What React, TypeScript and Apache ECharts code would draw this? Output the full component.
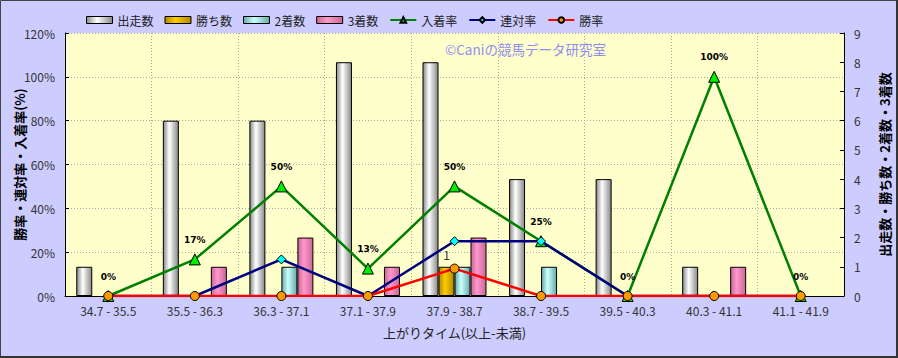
import React, { useEffect, useRef } from "react";
import * as echarts from "echarts";

const categories = ["34.7 - 35.5", "35.5 - 36.3", "36.3 - 37.1", "37.1 - 37.9", "37.9 - 38.7", "38.7 - 39.5", "39.5 - 40.3", "40.3 - 41.1", "41.1 - 41.9"];
const starts = [1, 6, 6, 8, 8, 4, 4, 1, 0];
const wins = [0, 0, 0, 0, 1, 0, 0, 0, 0];
const seconds = [0, 0, 1, 0, 1, 1, 0, 0, 0];
const thirds = [0, 1, 2, 1, 2, 0, 0, 1, 0];
const placeRate = [0, 16.7, 50, 12.5, 50, 25, 0, 100, 0];
const placeLabels = ["0%", "17%", "50%", "13%", "50%", "25%", "0%", "100%", "0%"];
const top2Rate = [0, 0, 16.7, 0, 25, 25, 0, 0, 0];
const winRate = [0, 0, 0, 0, 12.5, 0, 0, 0, 0];
const leftTicks = [0, 20, 40, 60, 80, 100, 120];
const rightTicks = [0, 1, 2, 3, 4, 5, 6, 7, 8, 9];

const FONT = "'Noto Sans CJK JP', 'Noto Sans', sans-serif";

function grad(edge: string, mid: string) {
  return new echarts.graphic.LinearGradient(0, 0, 1, 0, [
    { offset: 0, color: edge },
    { offset: 0.4, color: mid },
    { offset: 1, color: edge },
  ]);
}

const hideZero = (arr: number[]) => arr.map((v) => (v === 0 ? null : v));

export default function App() {
  const ref = useRef<HTMLDivElement>(null);
  useEffect(() => {
    if (!ref.current) return;
    const chart = echarts.init(ref.current, null, { renderer: "svg" });
    const barBase = {
      type: "bar" as const,
      yAxisIndex: 1,
      barWidth: 16,
      barGap: "0%",
      z: 2,
    };
    const lineLabel = {
      show: true,
      position: "top" as const,
      distance: 9,
      fontSize: 9,
      fontWeight: "bold" as const,
      color: "#000",
      fontFamily: "'DejaVu Sans', sans-serif",
      formatter: (p: any) => placeLabels[p.dataIndex],
    };
    chart.setOption({
      animation: false,
      backgroundColor: "#CCCCFF",
      textStyle: { fontFamily: FONT },
      legend: {
        top: 9,
        left: 81,
        itemWidth: 26,
        itemHeight: 7,
        itemGap: 11,
        textStyle: { fontSize: 12, color: "#222", fontFamily: FONT },
        data: [
          { name: "出走数", icon: "rect", itemStyle: { color: grad("#888", "#fff"), borderColor: "#000", borderWidth: 1 } },
          { name: "勝ち数", icon: "rect", itemStyle: { color: grad("#B08800", "#FFCC00"), borderColor: "#000", borderWidth: 1 } },
          { name: "2着数", icon: "rect", itemStyle: { color: grad("#66AAAA", "#CCFFFF"), borderColor: "#000", borderWidth: 1 } },
          { name: "3着数", icon: "rect", itemStyle: { color: grad("#CC6699", "#FF99CC"), borderColor: "#000", borderWidth: 1 } },
          { name: "入着率" },
          { name: "連対率" },
          { name: "勝率" },
        ],
      },
      grid: { left: 65, right: 54, top: 33, bottom: 62, containLabel: false, outerBoundsMode: "none" },
      xAxis: {
        type: "category",
        data: categories,
        name: "上がりタイム(以上-未満)",
        nameLocation: "middle",
        nameGap: 30,
        nameTextStyle: { fontSize: 13, color: "#222" },
        axisLine: { lineStyle: { color: "#000", width: 1 } },
        axisTick: { show: false },
        axisLabel: { fontSize: 12, color: "#333", margin: 8 },
        splitLine: { show: true, lineStyle: { color: "#aaa", type: [1, 2] } },
      },
      yAxis: [
        {
          type: "value",
          min: 0,
          max: 120,
          interval: 20,
          name: "勝率・連対率・入着率(%)",
          nameLocation: "middle",
          nameRotate: 90,
          nameGap: 39,
          nameMoveOverlap: false,
          nameTextStyle: { fontSize: 13, fontWeight: "bold", color: "#000" },
          axisLine: { show: true, lineStyle: { color: "#000" } },
          axisTick: { show: true, inside: true, length: 4, lineStyle: { color: "#000" } },
          axisLabel: { fontSize: 12, color: "#333", margin: 10, formatter: (v: number) => (leftTicks.includes(v) ? v + "%" : "") },
          splitLine: { show: true, lineStyle: { color: "#aaa", type: [1, 2] } },
        },
        {
          type: "value",
          min: 0,
          max: 9,
          interval: 1,
          position: "right",
          name: "出走数・勝ち数・2着数・3着数",
          nameLocation: "middle",
          nameRotate: 90,
          nameGap: 34,
          nameMoveOverlap: false,
          nameTextStyle: { fontSize: 13, fontWeight: "bold", color: "#000" },
          axisLine: { show: true, lineStyle: { color: "#000" } },
          axisTick: { show: true, inside: true, length: 4, lineStyle: { color: "#000" } },
          axisLabel: { fontSize: 12, color: "#333", margin: 10, formatter: (v: number) => (rightTicks.includes(v) ? String(v) : "") },
          splitLine: { show: false },
        },
      ],
      graphic: [
        {
          type: "rect",
          shape: { x: 65, y: 33, width: 779, height: 263 },
          style: { fill: "#FFFFCC" },
          z: -10,
          silent: true,
        },
        {
          type: "text",
          x: 445,
          y: 42,
          style: { text: "©Caniの競馬データ研究室", fill: "#8E8EF0", font: "13.5px " + FONT },
          z: 1,
        },
        {
          type: "rect",
          shape: { x: 0.5, y: 0.5, width: 896, height: 356 },
          style: { fill: "none", stroke: "#444", lineWidth: 1 },
          z: 100,
        },
        {
          type: "line",
          shape: { x1: 897, y1: 0, x2: 897, y2: 358 },
          style: { stroke: "#333", lineWidth: 2 },
          z: 100,
        },
        {
          type: "line",
          shape: { x1: 0, y1: 357, x2: 898, y2: 357 },
          style: { stroke: "#333", lineWidth: 2 },
          z: 100,
        },
      ],
      series: [
        { ...barBase, name: "出走数", data: hideZero(starts), itemStyle: { color: grad("#888", "#fff"), borderColor: "#000", borderWidth: 1 } },
        {
          ...barBase,
          name: "勝ち数",
          data: hideZero(wins),
          itemStyle: { color: grad("#B08800", "#FFCC00"), borderColor: "#000", borderWidth: 1 },
          label: {
            show: true,
            position: "top",
            distance: 6,
            fontSize: 12,
            color: "#333",
            formatter: (p: any) => (p.value > 0 ? String(p.value) : ""),
          },
        },
        { ...barBase, name: "2着数", data: hideZero(seconds), itemStyle: { color: grad("#66AAAA", "#CCFFFF"), borderColor: "#000", borderWidth: 1 } },
        { ...barBase, name: "3着数", data: hideZero(thirds), itemStyle: { color: grad("#CC6699", "#FF99CC"), borderColor: "#000", borderWidth: 1 } },
        {
          type: "line",
          name: "入着率",
          yAxisIndex: 0,
          data: placeRate,
          z: 5,
          symbol: "triangle",
          symbolSize: 11,
          lineStyle: { color: "#008000", width: 2.5 },
          itemStyle: { color: "#00EE00", borderColor: "#000", borderWidth: 1 },
          label: lineLabel,
        },
        {
          type: "line",
          name: "連対率",
          yAxisIndex: 0,
          data: top2Rate,
          z: 6,
          symbol: "diamond",
          symbolSize: 9,
          lineStyle: { color: "#000080", width: 2.5 },
          itemStyle: { color: "#00FFFF", borderColor: "#000", borderWidth: 1 },
        },
        {
          type: "line",
          name: "勝率",
          yAxisIndex: 0,
          data: winRate,
          z: 7,
          symbol: "circle",
          symbolSize: 9,
          lineStyle: { color: "#FF0000", width: 2.5 },
          itemStyle: { color: "#FF9900", borderColor: "#000", borderWidth: 1 },
        },
      ],
    });
    return () => chart.dispose();
  }, []);
  return <div ref={ref} style={{ position: "fixed", left: 0, top: 0, width: 898, height: 358 }} />;
}
